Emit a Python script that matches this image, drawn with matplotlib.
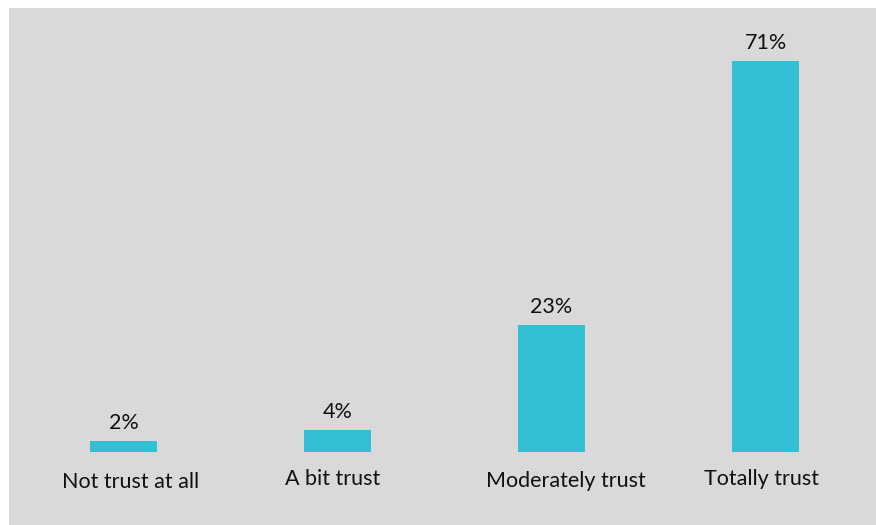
import matplotlib
matplotlib.use("Agg")
import matplotlib.pyplot as plt

# trust levels and share of respondents (%)
categories = ["Not trust at all", "A bit trust", "Moderately trust", "Totally trust"]
shares = [2, 4, 23, 71]

# small pixel nudges for the category captions (text boxes aren't perfectly centred)
caption_dx = [7, -5, 14, -4]
caption_dy = [-30, -27, -29, -27]

bar_color = "#33c0d5"
bg_color = "#d9d9d9"

plt.rcParams["font.family"] = ["Lato", "DejaVu Sans"]

fig = plt.figure(figsize=(8.76, 5.25), dpi=100)
fig.patch.set_facecolor("white")
ax = fig.add_axes([9 / 876, 0, 867 / 876, 517 / 525])
ax.set_facecolor(bg_color)

x = range(len(categories))
bars = ax.bar(x, shares, width=0.313, color=bar_color)

# value labels above each bar
for rect, val in zip(bars, shares):
    ax.annotate(f"{val}%", (rect.get_x() + rect.get_width() / 2, val),
                xytext=(0, 18), textcoords="offset pixels",
                ha="center", va="center", fontsize=15.5, color="#111111")

# category captions under the baseline
for i, (name, dx, dy) in enumerate(zip(categories, caption_dx, caption_dy)):
    ax.annotate(name, (i, 0), xytext=(dx, dy), textcoords="offset pixels",
                ha="center", va="center", fontsize=15.5, color="#111111")

ax.set_xlim(-0.535, 3.516)
ax.set_ylim(-13.26, 80.6)
for s in ax.spines.values():
    s.set_visible(False)
ax.set_xticks([])
ax.set_yticks([])

fig.savefig("out.png", dpi=100, facecolor=fig.get_facecolor())
